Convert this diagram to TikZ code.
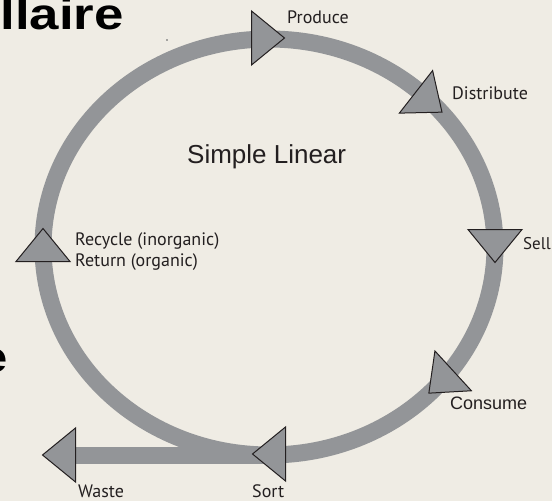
\documentclass[tikz,border=0pt]{standalone}
\usepackage{fontspec}
\setmainfont{PT Sans}
\newfontfamily\helvfont{Liberation Sans}
\definecolor{paper}{RGB}{239,236,228}
\definecolor{ringgray}{RGB}{147,149,152}
\definecolor{ink}{RGB}{35,31,32}
\tikzset{
  band/.style={line width=17pt, color=ringgray},
  flow/.pic={\draw[line width=1pt, draw=ink, fill=ringgray, line join=miter] (-16.5,27) -- (16.5,0) -- (-16.5,-27) -- cycle;},
  lbl/.style={inner sep=0pt, anchor=base west, text=ink, font=\fontsize{18}{21}\selectfont},
  big/.style={inner sep=0pt, anchor=base east, text=black, xscale=1.2, font=\helvfont\bfseries\fontsize{44}{52}\selectfont}
}

\begin{document}
\begin{tikzpicture}[x=1pt, y=-1pt]
\useasboundingbox (0,0) rectangle (552,501);
\clip (0,0) rectangle (552,501);
\fill[paper] (0,0) rectangle (552,501);

% title letters cut by the frame
\node[big] (title) at (124,29) {llaire};
\node[big] (edge letter) at (8,372) {e};
\fill[ringgray!60!black] (167,40) circle (0.8);

% ring and waste branch
\draw[band] (269,247) ellipse [x radius=226, y radius=208];
\coordinate (ring bottom) at (269,455);
\coordinate (waste end) at (76,455);
\draw[band] (ring bottom) -- (waste end);

% flow markers
\pic[rotate=0] (produce) at (268,38) {flow};
\pic[rotate=-38] (distribute) at (429,102) {flow};
\pic[rotate=-90] (sell) at (495,246) {flow};
\pic[rotate=-137.5] (consume) at (441,382) {flow};
\pic[rotate=180] (sort) at (269,454) {flow};
\pic[rotate=180] (waste) at (59,455) {flow};
\pic[rotate=90] (recycle) at (43,245) {flow};

% labels
\node[lbl] (produce label) at (287,23) {Produce};
\node[lbl] (distribute label) at (452,99) {Distribute};
\node[lbl, font=\fontsize{17}{20}\selectfont] (sell label) at (523,249) {Sell};
\node[lbl, font=\helvfont\fontsize{18}{21}\selectfont] (consume label) at (450,409) {Consume};
\node[lbl] (recycle label) at (75,245) {Recycle (inorganic)};
\node[lbl] (return label) at (75,266) {Return (organic)};
\node[lbl] (waste label) at (78,497) {Waste};
\node[lbl] (sort label) at (252,497) {Sort};
\node[lbl, font=\helvfont\fontsize{26}{31}\selectfont] (centre label) at (187,163) {Simple Linear};

\end{tikzpicture}
\end{document}
